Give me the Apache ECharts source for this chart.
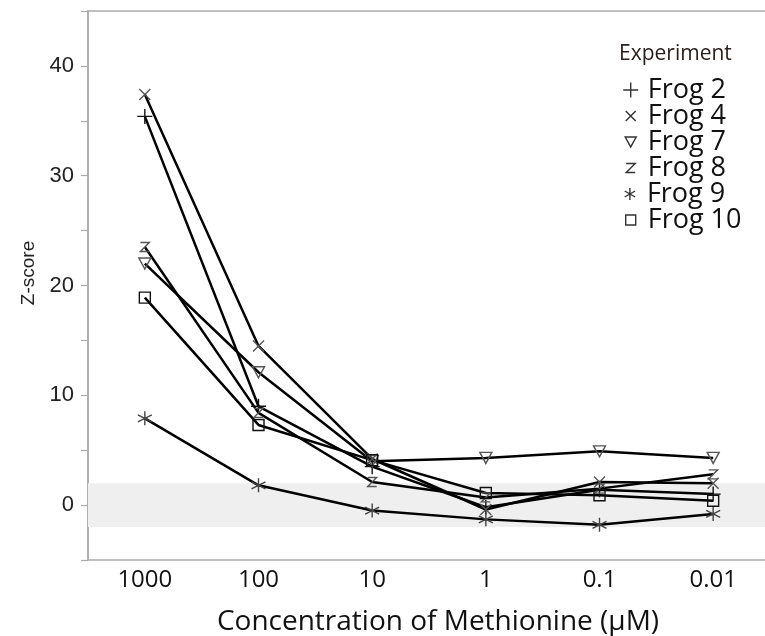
<!DOCTYPE html>
<html>
<head>
<meta charset="utf-8">
<script src="https://cdn.jsdelivr.net/npm/echarts@6/dist/echarts.min.js"></script>
<style>html,body{margin:0;padding:0;background:#fff;}#c{width:765px;height:636px;}</style>
</head>
<body>
<div id="c"></div>
<script>
var categories = ['1000', '100', '10', '1', '0.1', '0.01'];
var frog2  = [35.4, 9.0, 3.5, -0.2, 1.4, 1.0];
var frog4  = [37.4, 14.5, 4.2, -0.4, 2.1, 2.0];
var frog7  = [22.0, 12.1, 4.0, 4.3, 4.9, 4.3];
var frog8  = [23.5, 8.4, 2.1, 0.7, 1.5, 2.8];
var frog9  = [7.9, 1.8, -0.5, -1.3, -1.8, -0.8];
var frog10 = [18.9, 7.3, 4.1, 1.1, 0.9, 0.4];
var seriesNames = ['Frog 2', 'Frog 4', 'Frog 7', 'Frog 8', 'Frog 9', 'Frog 10'];
var bandRange = [-2, 2];

var SYM = {
  plus: 'path://M5,0V10M0,5H10',
  cross: 'path://M0,0L10,10M10,0L0,10',
  tri: 'path://M0,0H10L5,9Z',
  zed: 'path://M1,1H9L1,9H9',
  star: 'path://M5,0V10M0.67,2.5L9.33,7.5M9.33,2.5L0.67,7.5',
  sq: 'path://M0,0H10V10H0Z'
};
var seriesData = [frog2, frog4, frog7, frog8, frog9, frog10];
var symbols = [SYM.plus, SYM.cross, SYM.tri, SYM.zed, SYM.star, SYM.sq];
var sizes = [[15, 15], [11, 11], [12, 11], [9, 9], [14, 14], [11, 11]];
var legendSizes = [[15, 15], [10, 10], [11, 10], [9, 9], [12, 12], [10, 10]];
var markerColors = ['#111', '#555', '#555', '#555', '#444', '#111'];

var series = seriesData.map(function (d, i) {
  var s = {
    name: seriesNames[i],
    type: 'line',
    data: d,
    symbol: symbols[i],
    symbolSize: sizes[i],
    showAllSymbol: true,
    lineStyle: { color: '#000', width: 2.5 },
    itemStyle: { color: 'rgba(0,0,0,0)', borderColor: markerColors[i], borderWidth: 1.4 },
    emphasis: { disabled: true },
    z: 3
  };
  if (i === 0) {
    s.markArea = {
      silent: true,
      itemStyle: { color: '#efefef' },
      data: [[{ yAxis: bandRange[0] }, { yAxis: bandRange[1] }]]
    };
  }
  return s;
});

var legends = seriesNames.map(function (n, i) {
  return {
    orient: 'vertical',
    padding: 0,
    left: 630 - legendSizes[i][0] / 2,
    top: 76 + i * 26,
    itemWidth: legendSizes[i][0], itemHeight: legendSizes[i][1],
    itemGap: 0,
    selectedMode: false,
    textStyle: { fontFamily: 'Open Sans', fontSize: 27, color: '#111', lineHeight: 28,
                 padding: [0, 0, 0, 17 - legendSizes[i][0] / 2 - 5] },
    data: [{
      name: n,
      icon: symbols[i],
      itemStyle: { color: 'rgba(0,0,0,0)', borderColor: '#333', borderWidth: 1.4 }
    }]
  };
});

var chart = echarts.init(document.getElementById('c'), null, { renderer: 'canvas' });
chart.setOption({
  animation: false,
  backgroundColor: '#fff',
  title: {
    text: 'Experiment',
    left: 614, top: 39,
    textStyle: { fontFamily: 'Open Sans', fontSize: 21, fontWeight: 'normal', color: '#2a201c' }
  },
  legend: legends,
  grid: {
    left: 88, right: -5, top: 11, bottom: 76,
    outerBoundsMode: 'none',
    show: true, borderColor: '#aaa', borderWidth: 1.5, backgroundColor: 'transparent'
  },
  xAxis: {
    type: 'category',
    data: categories,
    boundaryGap: true,
    name: 'Concentration of Methionine (\u00b5M)',
    nameLocation: 'middle',
    nameGap: 48,
    nameTextStyle: { fontFamily: 'Open Sans', fontSize: 28, color: '#111', padding: [0, 0, 0, 18] },
    axisLine: { lineStyle: { color: '#aaa', width: 1.5 } },
    axisTick: { alignWithLabel: true, length: 7, lineStyle: { color: '#aaa', width: 1.2 } },
    axisLabel: { fontFamily: 'Open Sans', fontSize: 24, color: '#111', margin: 8 },
    splitLine: { show: false }
  },
  yAxis: {
    type: 'value',
    min: -5, max: 45, interval: 5,
    name: 'Z-score',
    nameLocation: 'middle',
    nameRotate: 90,
    nameGap: 50,
    nameTextStyle: { fontFamily: 'Liberation Sans', fontSize: 19, color: '#222', padding: [0, 0, 0, 25] },
    axisLine: { show: true, lineStyle: { color: '#aaa', width: 1.5 } },
    axisTick: { show: true, length: 7, lineStyle: { color: '#aaa', width: 1.2 } },
    axisLabel: {
      fontFamily: 'Liberation Sans', fontSize: 22, color: '#222', margin: 14,
      formatter: function (v) { return (v % 10 === 0) ? String(v) : ''; }
    },
    splitLine: { show: false }
  },
  series: series
});
</script>
</body>
</html>
